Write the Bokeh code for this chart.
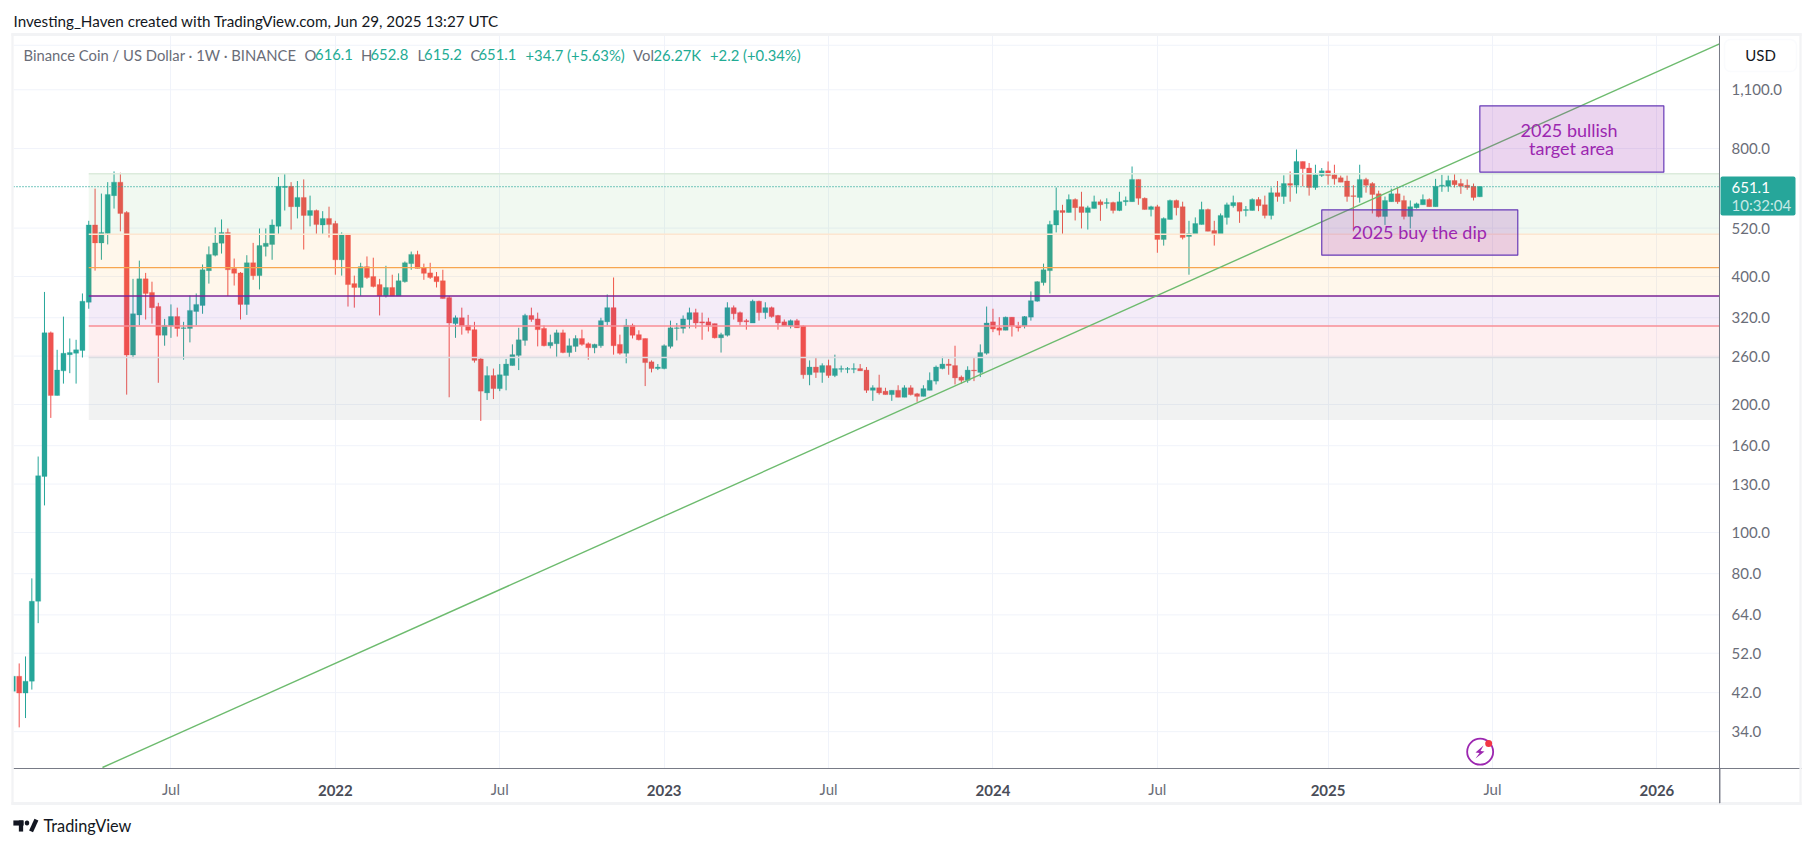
from bokeh.plotting import figure
from bokeh.models import (ColumnDataSource, FixedTicker, LinearAxis, Label, BoxAnnotation,
                          PolyAnnotation, Range1d, Span)
from bokeh.embed import file_html
from bokeh.resources import INLINE

# ---- weekly candles, Binance Coin / US Dollar, first week visible = index -25, 2021-07-05 = index 0
opens = [42.3,45.9,41.9,44.7,68.9,135.5,
 295,210,240,262,264,268,348,529,480,505,
 620,667,566,261.5,325,395,367,340,291,
 306,322,302,302,331,342,413,449,479,508,
 418,408,344,431,402,471,476,525,648,652,
 584,614,557,572,529,548,533,438,503,385,
 377,422,400,383,360,377,360,389,429,451,
 420,408,400,391,357,310,320,307,300,256,
 213,234,218,234,247,261,283,324,318,302,
 275,278,295,265,274,286,278,272,275,313,
 338,277,264,307,292,286,252,243,243,274,
 302,302,317,329,313,313,310,287,291,338,
 329,315,311,350,329,338,324,313,306,315,
 306,235,245,238,247,234,242,242,242,243,
 241,216,219,215,211,216,208,219,212,209,
 216,227,243,249,247,232,228,241,238,264,
 313,303,299,321,306,306,321,350,387,413,
 529,572,566,607,584,566,578,600,594,597,
 572,600,600,677,611,575,584,489,545,604,
 584,497,503,530,575,513,503,551,587,597,
 572,572,607,590,557,630,617,662,656,746,
 720,648,691,709,694,683,671,620,614,677,
 662,626,554,600,626,604,554,581,590,607,
 584,652,652,673,662,656,652,616.1]
highs = [46,49.2,51.1,78,150.9,368,
 297,269,322,286,284,365,541,644,627,667,
 707,702,570,395,436,408,389,347,318,
 344,338,313,361,365,427,471,522,545,519,
 441,410,449,480,519,519,545,686,699,667,
 671,677,620,575,570,584,541,508,503,402,
 431,446,443,395,424,404,407,434,458,460,
 429,431,410,415,360,324,338,325,313,258,
 246,243,249,256,277,303,327,338,329,307,
 292,300,300,286,291,300,280,278,320,363,
 398,292,318,310,299,286,254,249,277,315,
 311,324,338,336,329,320,310,295,348,342,
 331,318,353,351,348,340,325,317,317,318,
 307,254,258,250,255,262,247,245,250,249,
 245,222,235,219,216,222,222,222,213,222,
 238,247,259,256,275,234,246,258,277,340,
 336,321,322,321,313,323,369,390,429,541,
 648,590,624,611,633,587,620,607,611,600,
 633,617,726,677,614,587,590,551,607,607,
 600,541,551,600,578,541,563,597,620,597,
 586,611,615,620,648,671,692,707,796,746,
 740,733,720,746,733,691,691,656,733,683,
 667,637,617,644,648,620,604,597,624,611,
 679,694,691,699,679,677,662,652.8]
lows = [42.2,34.8,36.6,42.7,61.2,115.8,
 186,210,224,237,224,258,336,413,438,476,
 578,511,211,257,307,317,310,225,275,
 287,289,255,280,307,327,385,446,453,360,
 381,317,325,393,373,446,438,503,572,516,
 548,463,525,503,503,494,404,402,340,338,
 360,395,377,324,357,360,360,387,415,418,
 393,395,377,355,208,287,292,294,251,183,
 205,206,215,216,247,241,275,313,274,274,
 271,259,264,258,266,275,255,264,272,307,
 262,262,250,286,283,221,238,241,242,271,
 283,294,302,302,284,297,286,265,289,317,
 307,300,311,315,318,320,300,306,302,303,
 230,222,231,225,231,232,238,237,237,240,
 213,204,211,211,204,208,208,210,203,209,
 216,223,242,235,223,224,225,227,232,262,
 296,291,299,289,297,302,315,349,381,365,
 508,503,566,542,519,516,578,541,578,563,
 570,587,600,590,575,554,455,473,545,557,
 489,404,503,530,511,473,503,530,581,535,
 554,572,570,548,545,600,593,600,627,652,
 620,640,686,658,658,667,600,511,597,630,
 563,551,529,600,593,545,519,578,590,584,
 584,633,633,648,626,640,604,615.2]
closes = [45.9,41.9,44.7,68.9,136,295,
 210,241,264,265,269,350,529,480,508,624,
 667,563,261.5,327,395,365,338,291,307,
 322,302,303,333,344,415,451,480,508,415,
 407,344,431,402,473,479,529,652,652,584,
 614,557,572,530,548,530,438,503,383,377,
 422,398,379,360,377,360,391,431,451,418,
 407,398,389,355,311,320,306,299,254,215,
 234,218,235,249,262,284,324,317,300,275,
 280,295,265,275,286,277,272,277,315,338,
 275,264,307,291,284,251,243,245,275,303,
 303,318,329,311,311,307,287,292,338,327,
 313,313,350,329,338,322,311,306,315,303,
 235,245,238,247,234,243,243,243,243,240,
 216,219,213,211,216,208,219,211,209,218,
 228,245,249,247,231,228,241,240,265,311,
 301,299,321,306,303,322,351,389,415,530,
 572,566,607,581,566,581,600,590,597,572,
 600,604,677,611,575,584,489,548,604,581,
 494,505,533,575,511,503,557,590,597,570,
 575,607,587,557,630,617,662,656,746,717,
 648,694,709,691,679,667,617,617,677,656,
 624,554,604,626,600,554,584,593,607,584,
 652,656,673,658,652,648,614,651.1]
assert len(opens) == len(highs) == len(lows) == len(closes) == 233, (len(opens), len(highs), len(lows), len(closes))
bar_index = list(range(-25, 208))

# ---- axes
price_ticks = [1100, 800, 520, 400, 320, 260, 200, 160, 130, 100, 80, 64, 52, 42, 34]
price_labels = ["1,100.0", "800.0", "520.0", "400.0", "320.0", "260.0", "200.0", "160.0",
                "130.0", "100.0", "80.0", "64.0", "52.0", "42.0", "34.0"]
extra_grid_price = [1400]
month_ticks = [0, 52, 104, 156, 209]
month_labels = ["Jul", "Jul", "Jul", "Jul", "Jul"]
year_ticks = [26, 78, 130, 183, 235]
year_labels = ["2022", "2023", "2024", "2025", "2026"]

# ---- drawings
X_START = -24.9        # first visible bar position
X_PRICE_SCALE = 244.9  # bar position of the price scale
X_END = 257.87         # right edge of the widget
fib_levels = [698, 503, 360, 306, 258, 184]
fib_start = -13
fib_fills = ["rgba(76,175,80,0.08)", "rgba(255,152,0,0.08)", "rgba(129,45,176,0.09)",
             "rgba(242,54,69,0.08)", "rgba(120,130,130,0.10)"]
fib_lines = ["#dcebdc", "#fde6d0", "#7b2596", "#f98e96", "#dcdde2"]
mid_level_orange = 420
last_price = 651.1
trend_x = [-10.83, 244.9]
trend_y = [28.0, 1411]
box_bull = dict(left=207, right=236.1, top=1008.7, bottom=704)
box_dip = dict(left=182, right=213, top=574, bottom=449)
event_x, event_y = 207.05, 30.5
event_dot_x, event_dot_y = 208.4, 31.9

UP, DOWN = "#26a69a", "#ef5350"
GRID = "#f0f3fa"
AXIS = "#787b86"
LABEL = "#6a6d78"
FONT = "Lato"

LEFT, TOP, BOTTOM = 13, 35, 768      # frame in page pixels (its right edge is the widget's edge, 1801)
H = 846
p = figure(width=1805, height=H, output_backend="svg", toolbar_location=None,
           y_axis_type="log", y_axis_location="right",
           x_range=Range1d(X_START, X_END), y_range=Range1d(27.85, 1476),
           min_border_left=LEFT, min_border_top=TOP,
           min_border_right=4, min_border_bottom=H - BOTTOM,
           outline_line_color=None)
p.background_fill_color = "white"
p.border_fill_color = "white"

# grid: vertical rules from the library, horizontal rules stop at the price scale
p.xgrid.ticker = FixedTicker(ticks=sorted(month_ticks + year_ticks))
p.xgrid.grid_line_color = GRID
p.xgrid.grid_line_width = 1
p.ygrid.visible = False
grid_prices = price_ticks + extra_grid_price
p.segment(x0=[X_START] * len(grid_prices), x1=[X_PRICE_SCALE] * len(grid_prices),
          y0=grid_prices, y1=grid_prices, line_color=GRID, line_width=1)

# right axis (labels pulled back over the widget's scale strip)
ya = p.yaxis[0]
ya.ticker = FixedTicker(ticks=price_ticks)
ya.major_label_overrides = dict(zip(price_ticks, price_labels))
ya.major_tick_line_color = None
ya.minor_tick_line_color = None
ya.major_tick_out = 0
ya.major_tick_in = 0
ya.major_label_standoff = -70
ya.axis_line_color = None
ya.major_label_text_color = LABEL
ya.major_label_text_font = FONT
ya.major_label_text_font_size = "15px"
p.add_layout(Span(location=X_PRICE_SCALE, dimension="height", line_color=AXIS, line_width=1))

# bottom axes: months regular, years bold
xa = p.xaxis[0]
xa.ticker = FixedTicker(ticks=month_ticks)
xa.major_label_overrides = dict(zip(month_ticks, month_labels))
xa.major_tick_line_color = None
xa.minor_tick_line_color = None
xa.major_tick_out = 0
xa.major_tick_in = 0
xa.major_label_standoff = 11
xa.axis_line_color = AXIS
xa.major_label_text_color = LABEL
xa.major_label_text_font = FONT
xa.major_label_text_font_size = "15px"
yax = LinearAxis(ticker=FixedTicker(ticks=year_ticks),
                 major_label_overrides=dict(zip(year_ticks, year_labels)),
                 axis_line_color=None,
                 major_tick_line_color=None, minor_tick_line_color=None,
                 major_tick_out=0, major_tick_in=0, major_label_standoff=-16,
                 major_label_text_color="#4a4d58", major_label_text_font=FONT,
                 major_label_text_font_style="bold", major_label_text_font_size="15px")
p.add_layout(yax, "below")

# candles
colors = [UP if c >= o else DOWN for o, c in zip(opens, closes)]
src = ColumnDataSource(dict(x=bar_index, o=opens, h=highs, l=lows, c=closes, color=colors))
p.segment("x", "h", "x", "l", source=src, color="color", line_width=1)
p.vbar(x="x", top="o", bottom="c", width=0.79, source=src, fill_color="color", line_color="color",
       line_width=0.3)

# fib zones (painted over the candles, as in the original)
n = len(fib_fills)
p.quad(left=[fib_start] * n, right=[X_PRICE_SCALE] * n, top=fib_levels[:-1], bottom=fib_levels[1:],
       fill_color=fib_fills, line_color=None)
p.segment(x0=[fib_start] * 5, x1=[X_PRICE_SCALE] * 5, y0=fib_levels[:5], y1=fib_levels[:5],
          line_color=fib_lines, line_width=[1.5, 1.5, 1.6, 1.5, 1.5])
p.segment(x0=[fib_start], x1=[X_PRICE_SCALE], y0=[mid_level_orange], y1=[mid_level_orange],
          line_color="#f7a650", line_width=1.2)

# trend line + last-price line
p.line(trend_x, trend_y, line_color="#6dbb6e", line_width=1.4)
p.line([X_START, X_PRICE_SCALE], [last_price, last_price], line_color=UP, line_width=1.2, line_dash=[1, 2])

# purple areas
for b in (box_bull, box_dip):
    p.quad(left=[b["left"]], right=[b["right"]], top=[b["top"]], bottom=[b["bottom"]],
           fill_color="#9c27b0", fill_alpha=0.2, line_color="#673ab7", line_width=1.2)

def label(text, x, y, color=LABEL, size="14.8px", align="left", style="normal", baseline="middle",
          place="center"):
    p.add_layout(Label(x=x, y=y, x_units="canvas", y_units="canvas", text=text,
                       text_color=color, text_font=FONT, text_font_size=size, text_align=align,
                       text_baseline=baseline, text_font_style=style), place)

def rect(l, t, r, b, color, place, border=None, radius=0, angle=0):
    """Flat rectangle outside the frame: an empty label with a background, in a side panel."""
    p.add_layout(Label(x=(l + r) / 2, y=(t + b) / 2, x_units="canvas", y_units="canvas", text="\u00a0",
                       text_font_size="1px", text_align="center", text_baseline="middle",
                       padding=(int((r - l) / 2), int((b - t) / 2)), background_fill_color=color,
                       border_line_color=border, border_radius=radius, angle=angle), place)

def box(l, t, r, b, **kw):
    p.add_layout(BoxAnnotation(left=l, right=r, top=t, bottom=b, left_units="canvas", right_units="canvas",
                               top_units="canvas", bottom_units="canvas", **kw))

PURPLE_TXT = "#9c27b0"
label("2025 bullish", 1568.6, 129, PURPLE_TXT, "18px", "center")
label("target area", 1571, 147, PURPLE_TXT, "18px", "center")
label("2025 buy the dip", 1419, 231, PURPLE_TXT, "18px", "center")

# chrome: outer frame and axis extensions
FR = "#f2f3f5"
rect(11, 33, 13, 804, FR, "left")
rect(11, 33, 1801, 35, FR, "above")
rect(1799, 33, 1801, 804, FR, "right")
rect(11, 802, 1801, 804, FR, "below")
rect(1719, 768, 1719.5, 802, AXIS, "right", border=AXIS)

# USD button
box(1724, 39, 1796, 71, fill_color="white", fill_alpha=1, line_color=GRID, line_width=1.5, border_radius=6)
label("USD", 1760, 54.5, "#131722", "15px", "center")

# price tag
box(1720, 176, 1795, 215, fill_color=UP, fill_alpha=1, line_color=None, border_radius=2)
label("651.1", 1731, 187, "white", "15px")
label("10:32:04", 1731, 204.5, "#c6e9e5", "15px")

# header text
label("Investing_Haven created with TradingView.com, Jun 29, 2025 13:27 UTC", 13, 20, "#131722", "15.2px", place="above")
G = "#6a6d78"
T = "#22ab94"
for txt, x, c in [("Binance Coin / US Dollar · 1W · BINANCE", 23, G),
                  ("O", 304, G), ("616.1", 314.6, T), ("H", 360.5, G), ("652.8", 370, T),
                  ("L", 417, G), ("615.2", 423.6, T), ("C", 470, G), ("651.1", 478, T),
                  ("+34.7 (+5.63%)", 525, T), ("Vol", 632.6, G), ("26.27K", 653, T),
                  ("+2.2 (+0.34%)", 709.5, T)]:
    label(txt, x, 54, c, "14.8px")

# footer logo
BLK = "#131722"
rect(13, 820, 23, 825, BLK, "below")
rect(18, 820, 23, 831, BLK, "left")
rect(24, 820, 29, 825, BLK, "left", radius=2)
rect(30.5, 819, 36, 831, BLK, "below", angle=-0.42)
label("TradingView", 43, 825, BLK, "16.3px", place="below")

# events icon
def poly(pts, color):
    p.add_layout(PolyAnnotation(xs=[a for a, _ in pts], ys=[b for _, b in pts],
                                xs_units="canvas", ys_units="canvas",
                                fill_color=color, fill_alpha=1, line_color=None))
p.scatter([event_x], [event_y], size=26, fill_color=None, line_color=PURPLE_TXT, line_width=1.8)
poly([(1483, 745), (1475, 752), (1479, 752.5), (1475, 758), (1484, 751), (1480, 750.5)], PURPLE_TXT)
p.scatter([event_dot_x], [event_dot_y], size=7, fill_color="#f23645", line_color=None)

open("out.html", "w").write(file_html(p, INLINE))
